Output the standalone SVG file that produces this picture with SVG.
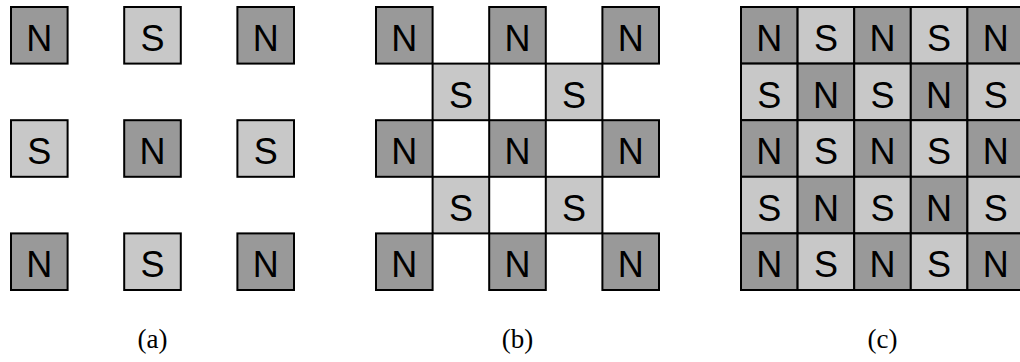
<svg xmlns="http://www.w3.org/2000/svg" width="1020" height="362" viewBox="0 0 1020 362">
<style>
rect{stroke:#000;stroke-width:2}
.n{fill:#999999}
.s{fill:#c8c8c8}
.t{font-family:"Liberation Sans",Arial,sans-serif;font-size:36px;text-anchor:middle;fill:#000}
.c{font-family:"Liberation Serif","Times New Roman",serif;font-size:27px;text-anchor:middle;fill:#000}
</style>
<rect x="0" y="0" width="1020" height="362" style="fill:#fff;stroke:none"/>
<g id="panel-a">
<g id="a11"><rect class="n" x="11" y="7" width="56.6" height="56.6"/><text class="t" x="39.3" y="51">N</text></g>
<g id="a12"><rect class="s" x="124.2" y="7" width="56.6" height="56.6"/><text class="t" x="152.5" y="51">S</text></g>
<g id="a13"><rect class="n" x="237.4" y="7" width="56.6" height="56.6"/><text class="t" x="265.7" y="51">N</text></g>
<g id="a21"><rect class="s" x="11" y="120.2" width="56.6" height="56.6"/><text class="t" x="39.3" y="164.2">S</text></g>
<g id="a22"><rect class="n" x="124.2" y="120.2" width="56.6" height="56.6"/><text class="t" x="152.5" y="164.2">N</text></g>
<g id="a23"><rect class="s" x="237.4" y="120.2" width="56.6" height="56.6"/><text class="t" x="265.7" y="164.2">S</text></g>
<g id="a31"><rect class="n" x="11" y="233.4" width="56.6" height="56.6"/><text class="t" x="39.3" y="277.4">N</text></g>
<g id="a32"><rect class="s" x="124.2" y="233.4" width="56.6" height="56.6"/><text class="t" x="152.5" y="277.4">S</text></g>
<g id="a33"><rect class="n" x="237.4" y="233.4" width="56.6" height="56.6"/><text class="t" x="265.7" y="277.4">N</text></g>
<text id="cap-a" class="c" x="152.5" y="348">(a)</text>
</g>
<g id="panel-b">
<g id="b11"><rect class="n" x="376" y="7" width="56.6" height="56.6"/><text class="t" x="404.3" y="51">N</text></g>
<g id="b13"><rect class="n" x="489.2" y="7" width="56.6" height="56.6"/><text class="t" x="517.5" y="51">N</text></g>
<g id="b15"><rect class="n" x="602.4" y="7" width="56.6" height="56.6"/><text class="t" x="630.7" y="51">N</text></g>
<g id="b22"><rect class="s" x="432.6" y="63.6" width="56.6" height="56.6"/><text class="t" x="460.9" y="107.6">S</text></g>
<g id="b24"><rect class="s" x="545.8" y="63.6" width="56.6" height="56.6"/><text class="t" x="574.1" y="107.6">S</text></g>
<g id="b31"><rect class="n" x="376" y="120.2" width="56.6" height="56.6"/><text class="t" x="404.3" y="164.2">N</text></g>
<g id="b33"><rect class="n" x="489.2" y="120.2" width="56.6" height="56.6"/><text class="t" x="517.5" y="164.2">N</text></g>
<g id="b35"><rect class="n" x="602.4" y="120.2" width="56.6" height="56.6"/><text class="t" x="630.7" y="164.2">N</text></g>
<g id="b42"><rect class="s" x="432.6" y="176.8" width="56.6" height="56.6"/><text class="t" x="460.9" y="220.8">S</text></g>
<g id="b44"><rect class="s" x="545.8" y="176.8" width="56.6" height="56.6"/><text class="t" x="574.1" y="220.8">S</text></g>
<g id="b51"><rect class="n" x="376" y="233.4" width="56.6" height="56.6"/><text class="t" x="404.3" y="277.4">N</text></g>
<g id="b53"><rect class="n" x="489.2" y="233.4" width="56.6" height="56.6"/><text class="t" x="517.5" y="277.4">N</text></g>
<g id="b55"><rect class="n" x="602.4" y="233.4" width="56.6" height="56.6"/><text class="t" x="630.7" y="277.4">N</text></g>
<text id="cap-b" class="c" x="517.5" y="348">(b)</text>
</g>
<g id="panel-c">
<g id="c11"><rect class="n" x="741" y="7" width="56.6" height="56.6"/><text class="t" x="769.3" y="51">N</text></g>
<g id="c12"><rect class="s" x="797.6" y="7" width="56.6" height="56.6"/><text class="t" x="825.9" y="51">S</text></g>
<g id="c13"><rect class="n" x="854.2" y="7" width="56.6" height="56.6"/><text class="t" x="882.5" y="51">N</text></g>
<g id="c14"><rect class="s" x="910.8" y="7" width="56.6" height="56.6"/><text class="t" x="939.1" y="51">S</text></g>
<g id="c15"><rect class="n" x="967.4" y="7" width="56.6" height="56.6"/><text class="t" x="995.7" y="51">N</text></g>
<g id="c21"><rect class="s" x="741" y="63.6" width="56.6" height="56.6"/><text class="t" x="769.3" y="107.6">S</text></g>
<g id="c22"><rect class="n" x="797.6" y="63.6" width="56.6" height="56.6"/><text class="t" x="825.9" y="107.6">N</text></g>
<g id="c23"><rect class="s" x="854.2" y="63.6" width="56.6" height="56.6"/><text class="t" x="882.5" y="107.6">S</text></g>
<g id="c24"><rect class="n" x="910.8" y="63.6" width="56.6" height="56.6"/><text class="t" x="939.1" y="107.6">N</text></g>
<g id="c25"><rect class="s" x="967.4" y="63.6" width="56.6" height="56.6"/><text class="t" x="995.7" y="107.6">S</text></g>
<g id="c31"><rect class="n" x="741" y="120.2" width="56.6" height="56.6"/><text class="t" x="769.3" y="164.2">N</text></g>
<g id="c32"><rect class="s" x="797.6" y="120.2" width="56.6" height="56.6"/><text class="t" x="825.9" y="164.2">S</text></g>
<g id="c33"><rect class="n" x="854.2" y="120.2" width="56.6" height="56.6"/><text class="t" x="882.5" y="164.2">N</text></g>
<g id="c34"><rect class="s" x="910.8" y="120.2" width="56.6" height="56.6"/><text class="t" x="939.1" y="164.2">S</text></g>
<g id="c35"><rect class="n" x="967.4" y="120.2" width="56.6" height="56.6"/><text class="t" x="995.7" y="164.2">N</text></g>
<g id="c41"><rect class="s" x="741" y="176.8" width="56.6" height="56.6"/><text class="t" x="769.3" y="220.8">S</text></g>
<g id="c42"><rect class="n" x="797.6" y="176.8" width="56.6" height="56.6"/><text class="t" x="825.9" y="220.8">N</text></g>
<g id="c43"><rect class="s" x="854.2" y="176.8" width="56.6" height="56.6"/><text class="t" x="882.5" y="220.8">S</text></g>
<g id="c44"><rect class="n" x="910.8" y="176.8" width="56.6" height="56.6"/><text class="t" x="939.1" y="220.8">N</text></g>
<g id="c45"><rect class="s" x="967.4" y="176.8" width="56.6" height="56.6"/><text class="t" x="995.7" y="220.8">S</text></g>
<g id="c51"><rect class="n" x="741" y="233.4" width="56.6" height="56.6"/><text class="t" x="769.3" y="277.4">N</text></g>
<g id="c52"><rect class="s" x="797.6" y="233.4" width="56.6" height="56.6"/><text class="t" x="825.9" y="277.4">S</text></g>
<g id="c53"><rect class="n" x="854.2" y="233.4" width="56.6" height="56.6"/><text class="t" x="882.5" y="277.4">N</text></g>
<g id="c54"><rect class="s" x="910.8" y="233.4" width="56.6" height="56.6"/><text class="t" x="939.1" y="277.4">S</text></g>
<g id="c55"><rect class="n" x="967.4" y="233.4" width="56.6" height="56.6"/><text class="t" x="995.7" y="277.4">N</text></g>
<text id="cap-c" class="c" x="882.5" y="348">(c)</text>
</g>
<g id="connectors"/>
</svg>
